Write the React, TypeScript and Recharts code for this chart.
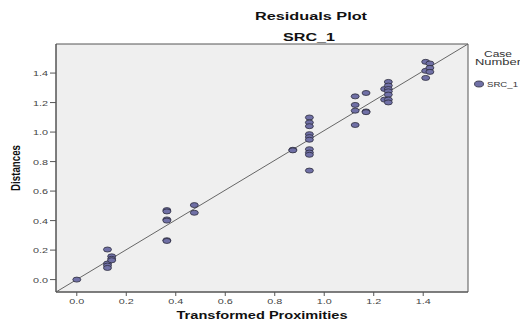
import React from 'react';
import { ScatterChart, Scatter, XAxis, YAxis, ReferenceArea, ReferenceLine } from 'recharts';

// Transformed proximities (x) and distances (y)
const proximities = [
  0.0,
  0.124, 0.124, 0.124, 0.124,
  0.141, 0.141, 0.141,
  0.364, 0.364, 0.364, 0.364, 0.364, 0.364,
  0.475, 0.475,
  0.873, 0.873,
  0.94, 0.94, 0.94, 0.94, 0.94, 0.94, 0.94, 0.94, 0.94, 0.94,
  1.125, 1.125, 1.125, 1.125,
  1.169, 1.169, 1.169,
  1.244, 1.244,
  1.259, 1.259, 1.259, 1.259, 1.259, 1.259, 1.259,
  1.41, 1.41, 1.41,
  1.427, 1.427, 1.427,
];
const distances = [
  0.0,
  0.204, 0.109, 0.095, 0.079,
  0.158, 0.141, 0.131,
  0.471, 0.462, 0.408, 0.4, 0.267, 0.262,
  0.505, 0.453,
  0.88, 0.876,
  1.099, 1.065, 1.04, 0.986, 0.966, 0.948, 0.884, 0.861, 0.846, 0.739,
  1.242, 1.184, 1.145, 1.048,
  1.265, 1.14, 1.135,
  1.292, 1.22,
  1.34, 1.315, 1.292, 1.276, 1.254, 1.22, 1.201,
  1.476, 1.415, 1.367,
  1.465, 1.435, 1.408,
];
const tickValues = [0, 0.2, 0.4, 0.6, 0.8, 1.0, 1.2, 1.4];

const xDomain: [number, number] = [-0.084, 1.581];
const yDomain: [number, number] = [-0.084, 1.597];

const points = proximities.map((x, i) => ({ x, y: distances[i] }));

const FILL = '#7070a6';
const STROKE = '#2c2c3c';
const font = 'Liberation Sans, Arial, sans-serif';

const EllipseDot = (props: any) => {
  const { cx, cy } = props;
  if (cx == null || cy == null) return null;
  return <ellipse cx={cx} cy={cy} rx={4} ry={2.5} fill={FILL} stroke={STROKE} strokeWidth={0.8} />;
};

const XTick = (props: any) => {
  const { x, y, payload } = props;
  return (
    <text x={x} y={y} dy={7} textAnchor="middle" fontSize={8} fill="#444"
      fontFamily={font} textLength={15} lengthAdjust="spacingAndGlyphs">
      {Number(payload.value).toFixed(1)}
    </text>
  );
};

const YTick = (props: any) => {
  const { x, y, payload } = props;
  return (
    <text x={x} y={y} dy={3} textAnchor="end" fontSize={8} fill="#444"
      fontFamily={font} textLength={15} lengthAdjust="spacingAndGlyphs">
      {Number(payload.value).toFixed(1)}
    </text>
  );
};

export default function App() {
  return (
    <div style={{ position: 'relative', width: 520, height: 320, background: '#fff' }}>
      <style>{'body{margin:0}'}</style>
      <ScatterChart width={520} height={320} margin={{ top: 44, right: 52, left: 0, bottom: 0 }}>
        <ReferenceArea x1={xDomain[0]} x2={xDomain[1]} y1={yDomain[0]} y2={yDomain[1]}
          fill="#efefef" fillOpacity={1} stroke="#555" strokeWidth={1} ifOverflow="visible" />
        <XAxis type="number" dataKey="x" domain={xDomain} ticks={tickValues} allowDataOverflow
          height={28} tickSize={4} tickMargin={1} stroke="#555" tick={<XTick />} />
        <YAxis type="number" dataKey="y" domain={yDomain} ticks={tickValues} allowDataOverflow
          width={56} tickSize={6} tickMargin={2} stroke="#555" tick={<YTick />} />
        <ReferenceLine segment={[{ x: xDomain[0], y: yDomain[0] }, { x: xDomain[1], y: yDomain[1] }]}
          stroke="#666" strokeWidth={1} ifOverflow="visible" />
        <Scatter name="SRC_1" data={points} shape={<EllipseDot />} isAnimationActive={false} />
      </ScatterChart>
      <svg width={520} height={320} style={{ position: 'absolute', left: 0, top: 0, pointerEvents: 'none' }}>
        <text x={311} y={20} textAnchor="middle" fontSize={10} fontWeight="bold" fill="#111"
          fontFamily={font} textLength={112} lengthAdjust="spacingAndGlyphs">Residuals Plot</text>
        <text x={309} y={41} textAnchor="middle" fontSize={10} fontWeight="bold" fill="#111"
          fontFamily={font} textLength={52} lengthAdjust="spacingAndGlyphs">SRC_1</text>
        <text x={262} y={319} textAnchor="middle" fontSize={10} fontWeight="bold" fill="#111"
          fontFamily={font} textLength={171} lengthAdjust="spacingAndGlyphs">Transformed Proximities</text>
        <text x={0} y={0} transform="translate(20,168) rotate(-90)" textAnchor="middle" fontSize={12}
          fontWeight="bold" fill="#111" fontFamily={font} textLength={46} lengthAdjust="spacingAndGlyphs">Distances</text>
        {/* legend */}
        <text x={498} y={56.5} textAnchor="middle" fontSize={8.5} fill="#333"
          fontFamily={font} textLength={28} lengthAdjust="spacingAndGlyphs">Case</text>
        <text x={475} y={65} fontSize={8.5} fill="#333"
          fontFamily={font} textLength={46} lengthAdjust="spacingAndGlyphs">Number</text>
        <ellipse cx={479} cy={84} rx={4.5} ry={3} fill={FILL} stroke={STROKE} strokeWidth={0.8} />
        <text x={487} y={87} fontSize={7} fill="#333"
          fontFamily={font} textLength={31} lengthAdjust="spacingAndGlyphs">SRC_1</text>
      </svg>
    </div>
  );
}
